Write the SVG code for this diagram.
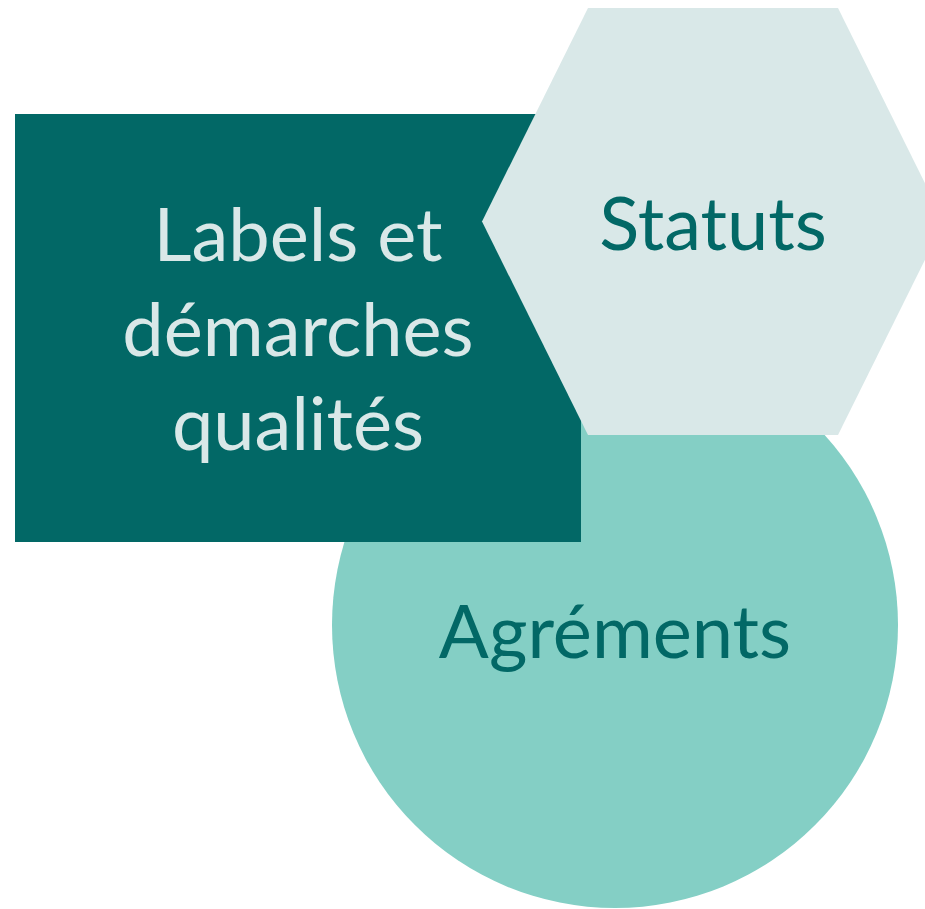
<svg xmlns="http://www.w3.org/2000/svg" width="925" height="909" viewBox="0 0 925 909">
<style>
.lbl{font-family:Lato,"Open Sans","Liberation Sans",sans-serif;font-size:74px;text-anchor:middle}
.dark{fill:#026866}
.light{fill:#d9e8e8}
</style>
<rect width="925" height="909" fill="#ffffff"/>
<g id="agrements">
<circle cx="615" cy="625" r="283" fill="#84cfc5"/>
<text class="lbl dark" x="615" y="658">Agréments</text>
</g>
<g id="labels">
<rect x="15" y="114" width="566" height="428" fill="#026866"/>
<text class="lbl light" x="298" y="261">Labels et</text>
<text class="lbl light" x="298" y="356">démarches</text>
<text class="lbl light" x="298" y="450">qualités</text>
</g>
<g id="statuts">
<polygon points="588,8 838,8 944,221.5 838,435 588,435 482,221.5" fill="#d9e8e8"/>
<text class="lbl dark" x="713" y="250">Statuts</text>
</g>
<g id="connectors"/>
</svg>
